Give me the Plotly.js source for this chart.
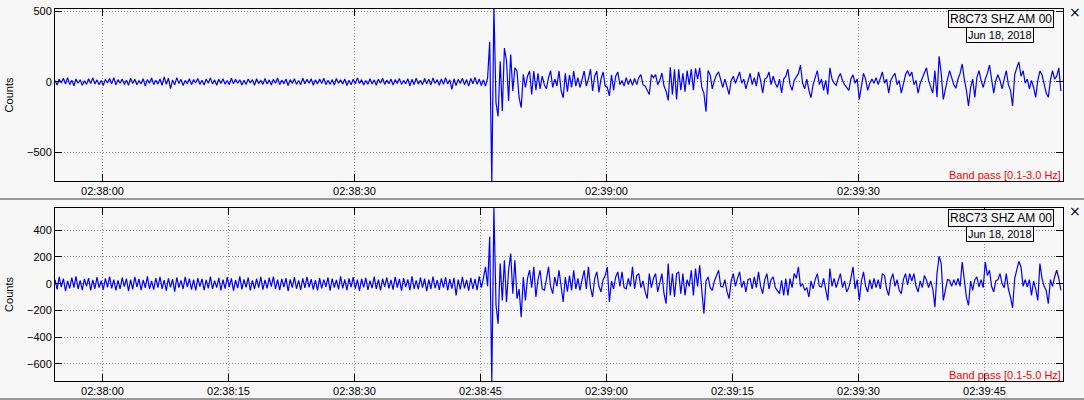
<!DOCTYPE html>
<html><head><meta charset="utf-8">
<script src="https://cdn.plot.ly/plotly-3.0.1.min.js"></script>
<style>html,body{margin:0;padding:0;background:#f7f7f7;}#chart{width:1084px;height:400px;}</style>
</head><body><div id="chart"></div>
<script>
// ---- data ----
const stationLabel = 'R8C73 SHZ AM 00';
const dateLabel = 'Jun 18, 2018';
const topFilterLabel = 'Band pass [0.1-3.0 Hz]';
const bottomFilterLabel = 'Band pass [0.1-5.0 Hz]';
const yTitle = 'Counts';
const windowStart = '2018-06-18 02:37:54.350';
const windowEnd = '2018-06-18 02:39:54.350';
const sampleStartMs = Date.UTC(2018, 5, 18, 2, 37, 54, 350);
const sampleStepMs = 250;
const topYRange = [-705, 518];
const bottomYRange = [-727, 565];
const topYTicks = [-500, 0, 500];
const bottomYTicks = [-600, -400, -200, 0, 200, 400];

const topCounts = [
10,-22,18,-8,25,-15,30,-20,12,-28,20,-10,15,-25,8,-18,22,-12,28,-16,
14,-20,10,-26,18,-8,24,-14,30,-22,16,-10,20,-18,12,-24,26,-12,18,-20,
8,-14,22,-30,16,-10,28,-20,12,-16,20,-24,35,-18,26,-48,14,-22,30,-12,
18,-26,10,-14,22,-20,16,-8,24,-18,12,-22,20,-10,28,-16,14,-24,18,-12,
22,-16,10,-20,26,-14,18,-10,15,-22,12,-18,20,-8,16,-24,22,-12,10,-18,
24,-16,14,-22,18,-10,28,-20,12,-14,20,-26,16,-12,22,-18,10,-20,26,-14,
18,-10,22,-24,14,-16,20,-12,26,-20,12,-18,16,-22,24,-10,14,-16,20,-26,
12,-20,18,-14,28,-12,16,-22,10,-18,22,-16,14,-24,20,-10,26,-18,12,-14,
20,-22,16,-12,24,-18,10,-14,22,-28,18,-20,26,-16,12,-20,24,-14,18,-22,
28,-12,16,-24,20,-18,30,-16,14,-54,22,-26,18,-12,26,-20,16,-30,24,-14,
32,-18,20,-26,14,-30,28,
285,-720,540,-150,-245,146,-207,240,150,-136,194,-65,100,77,-113,-184,54,-40,40,77,
-89,77,-60,60,-50,40,-20,-50,30,80,-40,20,-30,77,-60,-113,60,-70,50,-40,
77,-30,30,-40,20,77,-30,20,90,-65,40,77,-75,20,70,-30,-40,-100,50,-60,
40,70,-20,10,-30,30,-20,20,-25,25,-20,30,52,-20,-30,-60,-90,52,30,52,
-20,10,63,-30,-66,-132,104,-90,90,-125,90,-60,60,-70,80,-20,90,-60,95,20,
99,-40,-80,-212,80,50,-50,10,50,71,10,-40,20,-30,-90,10,40,-10,30,70,
-10,20,-50,10,60,-20,30,-30,70,10,-78,20,30,70,-20,40,-10,-40,20,-78,
20,40,90,-20,-60,10,40,60,118,-10,-50,20,-60,-113,-20,40,80,-20,20,-60,
10,-90,100,20,-10,-25,30,60,10,-20,-40,-60,20,50,-10,20,-125,-20,60,20,
-60,-10,20,-10,30,-20,20,70,-10,20,-80,10,40,60,-20,10,-80,-20,50,80,
40,70,-20,10,-80,-10,30,60,100,10,-30,-80,80,-110,181,60,-125,-40,20,80,
20,-20,-45,20,60,127,20,-60,-172,-40,20,-110,30,80,10,-40,20,60,120,20,
-80,10,50,10,-50,20,80,-20,-60,-172,50,100,141,40,80,-10,20,-50,10,-40,
-110,10,76,50,-10,-80,-110,10,80,20,40,100,-65
];

const bottomCounts = [
30,-42,50,-25,38,-55,20,-35,45,-30,55,-40,25,-48,35,-20,42,-50,28,-38,
48,-30,22,-45,40,-28,52,-35,30,-50,25,-40,45,-22,38,-55,30,-42,50,-25,
35,-48,28,-32,55,-40,20,-45,42,-30,50,-38,26,-52,40,-28,34,-60,46,-30,
24,-40,50,-26,38,-44,30,-50,42,-22,36,-48,28,-35,52,-40,22,-30,44,-50,
30,-38,48,-25,40,-52,26,-34,55,-42,32,-28,46,-50,24,-40,38,-30,50,-44,
28,-36,44,-22,52,-40,30,-48,36,-26,42,-55,32,-30,48,-38,24,-46,40,-32,
50,-28,34,-44,26,-50,42,-36,30,-24,46,-52,38,-30,28,-42,55,-35,32,-48,
40,-26,48,-38,30,-54,36,-28,44,-46,22,-34,52,-40,30,-50,38,-24,46,-36,
28,-44,50,-30,36,-52,42,-26,32,-48,55,-38,24,-42,46,-30,38,-56,30,-40,
52,-34,26,-46,40,-30,48,-50,34,-38,44,-88,30,-42,50,-36,28,-52,44,-40,
36,-48,55,-30,40,
125,-20,350,-740,570,-160,-300,150,-125,175,-137,100,225,-75,175,-112,-40,-250,50,-125,
40,100,-30,125,-100,30,100,-40,-50,30,125,-20,-75,50,-20,100,-40,-137,50,-60,
60,-50,100,-40,40,-50,30,100,-40,125,-30,-100,40,88,-20,-62,30,60,125,-137,
20,-40,50,88,-20,88,-30,-38,40,-20,125,-40,60,75,-30,20,-60,-112,75,-30,
40,75,-62,20,75,-75,-150,150,-88,75,-100,75,88,-75,75,-88,30,-20,100,-88,
112,-20,137,-50,-225,20,50,-30,-50,20,60,100,-20,-25,30,-60,-112,20,75,-20,
40,88,-30,20,-62,30,38,-40,50,-30,88,-20,-75,30,75,-40,30,50,-30,-50,
-75,25,-88,38,-88,38,-30,75,40,125,-20,0,-50,-30,-100,20,-38,30,75,-20,
-25,40,-60,-125,112,-20,40,-30,25,75,-30,20,-62,-30,40,125,-40,30,-125,20,
88,-20,-62,30,-40,40,-30,30,-40,75,60,-40,-88,30,75,-20,30,-50,-75,30,
75,-10,75,20,75,-20,-62,20,-30,60,25,-30,20,-38,-175,75,205,150,-125,-40,
30,25,-20,30,-12,40,-20,162,50,-100,-162,20,-50,30,50,-25,30,-30,162,60,
100,-20,-62,20,30,75,0,-30,75,-40,-100,-180,40,100,167,125,-20,30,-25,30,
-88,20,-40,-125,150,40,-20,-50,-150,30,-20,50,100,40,-50
];

// ---- chart ----
const times = arr => arr.map((_, i) => sampleStartMs + i * sampleStepMs);
const FONT = 'Liberation Sans, Arial, sans-serif';
const BG = '#f7f7f7';
const W = 1084, H = 400, L = 55, R = 21;
const px = x => (x - L) / (W - L - R);
const py = y => 1 - y / H;

const xBase = {
  type: 'date', range: [windowStart, windowEnd], tickformat: '%H:%M:%S',
  tick0: '2018-06-18 02:38:00', showline: true, mirror: 'ticks', linecolor: '#000', linewidth: 1,
  ticks: 'inside', ticklen: 7, tickcolor: '#000', showgrid: true, gridcolor: '#8a8a8a', griddash: '1px,2px',
  gridwidth: 1, zeroline: false, tickfont: {family: FONT, size: 11, color: '#000'}, fixedrange: true
};
const yBase = {
  showline: true, mirror: 'ticks', linecolor: '#000', linewidth: 1, ticks: 'inside', ticklen: 7,
  tickcolor: '#000', showgrid: true, gridcolor: '#8a8a8a', griddash: '1px,2px', gridwidth: 1, zeroline: false,
  tickfont: {family: FONT, size: 11, color: '#000'}, fixedrange: true,
  title: {text: yTitle, font: {family: FONT, size: 11, color: '#000'}, standoff: 11}
};

const traces = [
  {x: times(topCounts), y: topCounts, type: 'scatter', mode: 'lines', line: {color: '#0000ff', width: 1.2}, xaxis: 'x', yaxis: 'y', hoverinfo: 'skip'},
  {x: times(bottomCounts), y: bottomCounts, type: 'scatter', mode: 'lines', line: {color: '#0000ff', width: 1.2}, xaxis: 'x2', yaxis: 'y2', hoverinfo: 'skip'}
];

function boxes(yTop) {
  return [
    {xref: 'paper', yref: 'paper', x: px(1001), y: py(yTop + 10), text: stationLabel, showarrow: false,
     xanchor: 'center', yanchor: 'middle', bordercolor: '#000', borderwidth: 1, borderpad: 1, bgcolor: BG,
     font: {family: FONT, size: 12, color: '#000'}},
    {xref: 'paper', yref: 'paper', x: px(999.5), y: py(yTop + 26), text: dateLabel, showarrow: false,
     xanchor: 'center', yanchor: 'middle', bordercolor: '#000', borderwidth: 1, borderpad: 1, bgcolor: BG,
     font: {family: FONT, size: 11, color: '#000'}},
    {xref: 'paper', yref: 'paper', x: px(1075), y: py(yTop + 3), text: '×', showarrow: false,
     xanchor: 'center', yanchor: 'middle', font: {family: 'DejaVu Sans, sans-serif', size: 14, color: '#000'}}
  ];
}

const layout = {
  width: W, height: H, margin: {l: L, r: R, t: 0, b: 0}, paper_bgcolor: BG, plot_bgcolor: BG,
  showlegend: false,
  xaxis: Object.assign({}, xBase, {domain: [0, 1], anchor: 'y', dtick: 30000}),
  yaxis: Object.assign({}, yBase, {domain: [py(181), py(9)], anchor: 'x', range: topYRange, tickvals: topYTicks}),
  xaxis2: Object.assign({}, xBase, {domain: [0, 1], anchor: 'y2', dtick: 15000}),
  yaxis2: Object.assign({}, yBase, {domain: [py(381), py(208)], anchor: 'x2', range: bottomYRange, tickvals: bottomYTicks}),
  annotations: [].concat(boxes(9), boxes(208), [
    {xref: 'paper', yref: 'paper', x: 1, y: py(175), text: topFilterLabel, showarrow: false, xanchor: 'right', yanchor: 'middle',
     font: {family: FONT, size: 11, color: '#ff0000'}},
    {xref: 'paper', yref: 'paper', x: 1, y: py(375), text: bottomFilterLabel, showarrow: false, xanchor: 'right', yanchor: 'middle',
     font: {family: FONT, size: 11, color: '#ff0000'}}
  ]),
  shapes: [
    {type: 'line', xref: 'paper', yref: 'paper', x0: px(0), x1: px(W), y0: py(199), y1: py(199), line: {color: '#999', width: 2}},
    {type: 'line', xref: 'paper', yref: 'paper', x0: px(0), x1: px(W), y0: py(399), y1: py(399), line: {color: '#999', width: 2}}
  ]
};

Plotly.newPlot('chart', traces, layout, {displayModeBar: false, staticPlot: true});
</script></body></html>
